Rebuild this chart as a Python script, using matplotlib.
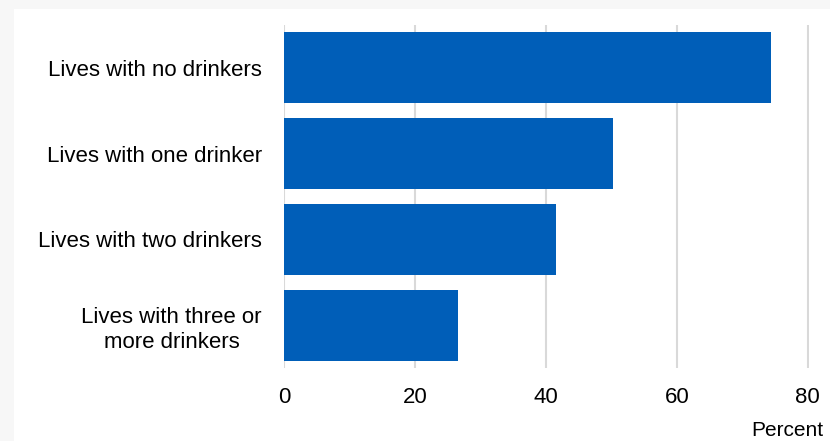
import matplotlib.pyplot as plt
from matplotlib.patches import Rectangle

# Data
categories = ["Lives with no drinkers", "Lives with one drinker",
              "Lives with two drinkers", "Lives with three or\nmore drinkers"]
values = [74.4, 50.2, 41.5, 26.6]
xticks = [0, 20, 40, 60, 80]

plt.rcParams['font.family'] = ['Liberation Sans', 'DejaVu Sans']

fig = plt.figure(figsize=(8.3, 4.41), dpi=100, facecolor='#f7f7f7')
# white panel
fig.patches.append(Rectangle((14 / 830, 0), 1, 1 - 9 / 441, transform=fig.transFigure,
                             facecolor='white', edgecolor='none', zorder=-5))

ax = fig.add_axes([284 / 830, 1 - 368 / 441, (809 - 284) / 830, (368 - 25) / 441])
ax.set_facecolor('white')
ypos = range(len(categories))
ax.barh(ypos, values, height=0.83, color='#005eb8', zorder=3)
ax.set_ylim(len(categories) - 0.5, -0.5)
ax.set_xlim(0, 80.2)
ax.set_xticks(xticks)
ax.set_xticklabels([str(t) for t in xticks], fontsize=16)
ax.set_yticks(list(ypos))
ax.set_yticklabels(categories, fontsize=16, multialignment='center', linespacing=1.25)
ax.tick_params(axis='both', length=0, colors='black')
ax.tick_params(axis='x', pad=14)
ax.tick_params(axis='y', pad=16)
ax.grid(axis='x', color='#d9d9d9', linewidth=1.5, zorder=0)
for s in ax.spines.values():
    s.set_visible(False)

fig.text(823 / 830, 1 - 430 / 441, "Percent", ha='right', va='center', fontsize=15)

fig.savefig('out.png', dpi=100, facecolor=fig.get_facecolor())
